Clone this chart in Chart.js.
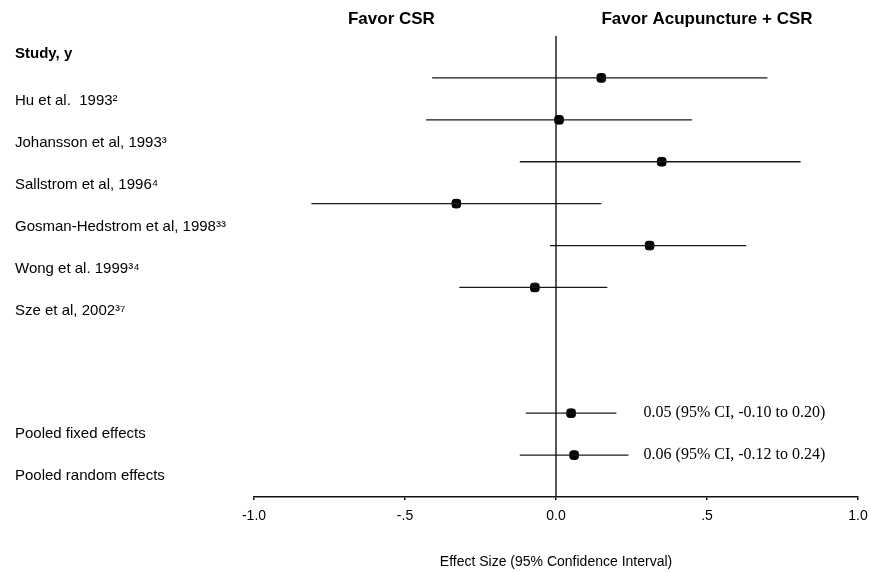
<!DOCTYPE html>
<html>
<head>
<meta charset="utf-8">
<script src="https://cdn.jsdelivr.net/npm/chart.js@4.4.1/dist/chart.umd.min.js"></script>
<style>
  html, body { margin: 0; padding: 0; background: #ffffff; }
  #wrap { width: 871px; height: 572px; position: relative; }
</style>
</head>
<body>
<div id="wrap"><canvas id="c" width="871" height="572"></canvas></div>
<script>
// ---- data ----
const headerLabel = "Study, y";
const studyLabels = [
  "Hu et al.  1993\u00B2",
  "Johansson et al, 1993\u00B3",
  "Sallstrom et al, 1996\u2074",
  "Gosman-Hedstrom et al, 1998\u00B3\u00B3",
  "Wong et al. 1999\u00B3\u2074",
  "Sze et al, 2002\u00B3\u2077"
];
const studyEstimates = [0.15, 0.01, 0.35, -0.33, 0.31, -0.07];
const studyLower     = [-0.41, -0.43, -0.12, -0.81, -0.02, -0.32];
const studyUpper     = [0.70, 0.45, 0.81, 0.15, 0.63, 0.17];
const studyRows      = [1, 2, 3, 4, 5, 6];

const pooledLabels    = ["Pooled fixed effects", "Pooled random effects"];
const pooledEstimates = [0.05, 0.06];
const pooledLower     = [-0.10, -0.12];
const pooledUpper     = [0.20, 0.24];
const pooledRows      = [9, 10];
const pooledTexts     = ["0.05 (95% CI, -0.10 to 0.20)", "0.06 (95% CI, -0.12 to 0.24)"];

const xTickValues = [-1.0, -0.5, 0.0, 0.5, 1.0];
const xTickLabels = ["-1.0", "-.5", "0.0", ".5", "1.0"];
const leftHeader  = "Favor CSR";
const rightHeader = "Favor Acupuncture + CSR";
const xAxisTitle  = "Effect Size (95% Confidence Interval)";

// ---- build ----
const allEst   = studyEstimates.concat(pooledEstimates);
const allLower = studyLower.concat(pooledLower);
const allUpper = studyUpper.concat(pooledUpper);
const allRows  = studyRows.concat(pooledRows);

const yLabelTexts = [headerLabel].concat(studyLabels, pooledLabels);
const yLabelValues = [0.42].concat(studyRows.map(r => r + 0.55), pooledRows.map(r => r + 0.5));

const SANS = "'Liberation Sans', Arial, Helvetica, sans-serif";
const SERIF = "'Liberation Serif', 'Times New Roman', serif";

const datasets = [];
// zero line
datasets.push({
  type: 'line',
  data: [{x: 0, y: 0}, {x: 0, y: 11}],
  borderColor: '#111', borderWidth: 1.4, pointRadius: 0, fill: false
});
// CI lines
allRows.forEach((r, i) => {
  datasets.push({
    type: 'line',
    data: [{x: allLower[i], y: r}, {x: allUpper[i], y: r}],
    borderColor: '#1a1a1a', borderWidth: 1.3, pointRadius: 0, fill: false
  });
});
// point estimates
datasets.push({
  type: 'scatter',
  data: allRows.map((r, i) => ({x: allEst[i], y: r})),
  backgroundColor: '#000', borderColor: '#000',
  pointStyle: 'rectRounded', pointRadius: 5, pointHoverRadius: 5
});

const annotate = {
  id: 'annotate',
  afterDraw(chart) {
    const ctx = chart.ctx;
    const xs = chart.scales.x, ys = chart.scales.y;
    ctx.save();
    ctx.fillStyle = '#000';
    ctx.textBaseline = 'middle';
    ctx.textAlign = 'center';
    ctx.font = "bold 17px " + SANS;
    ctx.fillText(leftHeader, xs.getPixelForValue(-0.545), 19);
    ctx.fillText(rightHeader, xs.getPixelForValue(0.50), 19);
    ctx.textAlign = 'left';
    ctx.font = "16px " + SERIF;
    pooledRows.forEach((r, i) => {
      ctx.fillText(pooledTexts[i], xs.getPixelForValue(0.29), ys.getPixelForValue(r));
    });
    ctx.restore();
  }
};

new Chart(document.getElementById('c'), {
  type: 'scatter',
  data: { datasets },
  plugins: [annotate],
  options: {
    responsive: false,
    animation: false,
    events: [],
    layout: { padding: { left: 15, right: 13, top: 36, bottom: 0 } },
    plugins: { legend: { display: false }, tooltip: { enabled: false } },
    scales: {
      x: {
        type: 'linear', min: -1, max: 1, position: 'bottom',
        afterBuildTicks: s => { s.ticks = xTickValues.map(v => ({value: v})); },
        afterFit: s => { s.height = 75; s.paddingLeft = 0; s.paddingRight = 0; },
        grid: { drawOnChartArea: false, drawTicks: true, tickLength: 3, color: '#111', lineWidth: 1.5 },
        border: { display: true, color: '#111', width: 1.5 },
        ticks: {
          color: '#000', padding: 8, maxRotation: 0,
          font: { family: SANS, size: 14 },
          callback: (v, i) => xTickLabels[i]
        },
        title: {
          display: true, text: xAxisTitle, color: '#000',
          font: { family: SANS, size: 14 }, padding: { top: 4, bottom: 1 }
        }
      },
      y: {
        type: 'linear', min: 0, max: 11, reverse: true, position: 'left',
        afterBuildTicks: s => { s.ticks = yLabelValues.map(v => ({value: v})); },
        afterFit: s => { s.width = 239; },
        grid: { display: false, drawTicks: false },
        border: { display: false },
        ticks: {
          color: '#000', crossAlign: 'far', autoSkip: false, padding: 0,
          font: ctx => ctx.index === 0 ? { family: SANS, size: 15, weight: 'bold' } : { family: SANS, size: 15 },
          callback: (v, i) => yLabelTexts[i]
        }
      }
    }
  }
});
</script>
</body>
</html>
